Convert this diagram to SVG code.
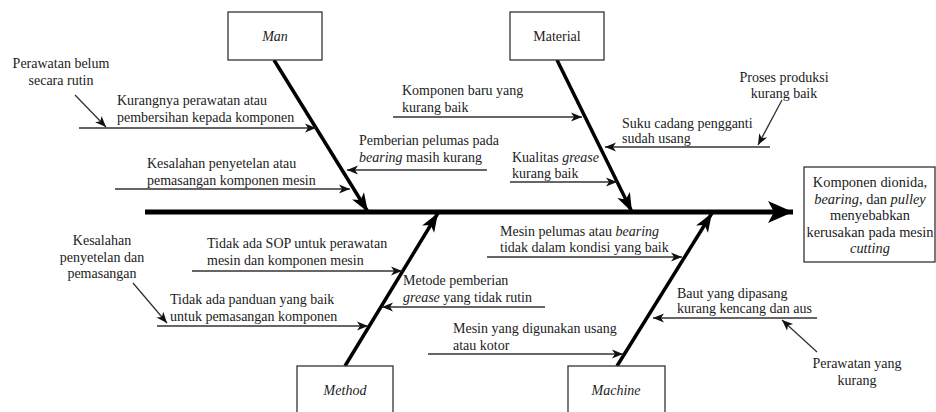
<svg xmlns="http://www.w3.org/2000/svg" width="936" height="412" viewBox="0 0 936 412">
<style>
text{font-family:"Liberation Serif","Tinos","Times New Roman","DejaVu Serif",serif;font-size:14px;fill:#222}
.c{text-anchor:middle}
.i{font-style:italic}
.e{font-size:14.4px}
.box{fill:#fff;stroke:#222;stroke-width:1.2}
.sub{stroke:#333;stroke-width:1.3;fill:none}
.bone{stroke:#000;stroke-width:3.5;fill:none}
</style>
<defs>
<marker id="sa" markerUnits="userSpaceOnUse" markerWidth="12" markerHeight="12" viewBox="0 0 12 12" refX="11" refY="6" orient="auto">
<path d="M0,1.5 L11,6 L0,10.5 L3,6 Z" fill="#111"/>
</marker>
<marker id="ba" markerUnits="userSpaceOnUse" markerWidth="20" markerHeight="16" viewBox="0 0 20 16" refX="19" refY="8" orient="auto">
<path d="M0,1 L19,8 L0,15 L5,8 Z" fill="#000"/>
</marker>
<marker id="ma" markerUnits="userSpaceOnUse" markerWidth="26" markerHeight="26" viewBox="0 0 26 26" refX="25" refY="13" orient="auto">
<path d="M0,2 L25,13 L0,24 L6,13 Z" fill="#000"/>
</marker>
</defs>

<g id="connectors">
<line x1="145" y1="212" x2="793" y2="212" stroke="#000" stroke-width="5" marker-end="url(#ma)"/>
<line class="bone" x1="274" y1="60" x2="368" y2="212" marker-end="url(#ba)"/>
<line class="bone" x1="557" y1="60" x2="632" y2="212" marker-end="url(#ba)"/>
<line class="bone" x1="345" y1="366" x2="438" y2="213" marker-end="url(#ba)"/>
<line class="bone" x1="617" y1="366" x2="712" y2="213" marker-end="url(#ba)"/>

<line class="sub" x1="79" y1="128" x2="316" y2="128" marker-end="url(#sa)"/>
<line class="sub" x1="115" y1="189" x2="350" y2="189" marker-end="url(#sa)"/>
<line class="sub" x1="75" y1="95" x2="106" y2="127" marker-end="url(#sa)"/>
<line class="sub" x1="487" y1="170" x2="347" y2="170" marker-end="url(#sa)"/>

<line class="sub" x1="393" y1="117" x2="582" y2="117" marker-end="url(#sa)"/>
<line class="sub" x1="510" y1="182" x2="617" y2="182" marker-end="url(#sa)"/>
<line class="sub" x1="770" y1="147" x2="605" y2="147" marker-end="url(#sa)"/>
<line class="sub" x1="782" y1="100" x2="758" y2="145" marker-end="url(#sa)"/>

<line class="sub" x1="192" y1="271" x2="402" y2="271" marker-end="url(#sa)"/>
<line class="sub" x1="157" y1="326" x2="368" y2="326" marker-end="url(#sa)"/>
<line class="sub" x1="133" y1="283" x2="167" y2="323" marker-end="url(#sa)"/>
<line class="sub" x1="545" y1="307" x2="382" y2="307" marker-end="url(#sa)"/>

<line class="sub" x1="487" y1="257" x2="682" y2="257" marker-end="url(#sa)"/>
<line class="sub" x1="428" y1="354" x2="623" y2="354" marker-end="url(#sa)"/>
<line class="sub" x1="817" y1="318" x2="653" y2="318" marker-end="url(#sa)"/>
<line class="sub" x1="817" y1="352" x2="782" y2="320" marker-end="url(#sa)"/>
</g>

<g id="man">
<rect class="box" x="228" y="12" width="94" height="48"/>
<text class="c i" x="275" y="41">Man</text>
</g>
<g id="material">
<rect class="box" x="510" y="12" width="94" height="48"/>
<text class="c" x="557" y="41">Material</text>
</g>
<g id="method">
<rect class="box" x="297" y="366" width="96" height="60"/>
<text class="c i" x="345" y="395">Method</text>
</g>
<g id="machine">
<rect class="box" x="568" y="366" width="97" height="60"/>
<text class="c i" x="616" y="395">Machine</text>
</g>
<g id="effect">
<rect class="box" x="804" y="167" width="131" height="95"/>
<text class="c e" x="870" y="187">Komponen dionida,</text>
<text class="c e" x="870" y="204"><tspan class="i">bearing</tspan>, dan <tspan class="i">pulley</tspan></text>
<text class="c e" x="870" y="220">menyebabkan</text>
<text class="c e" x="870" y="237">kerusakan pada mesin</text>
<text class="c i e" x="870" y="253">cutting</text>
</g>

<g id="man-causes">
<text x="117" y="105">Kurangnya perawatan atau</text>
<text x="117" y="122">pembersihan kepada komponen</text>
<text x="147" y="168">Kesalahan penyetelan atau</text>
<text x="147" y="185">pemasangan komponen mesin</text>
<text class="c" x="61" y="68">Perawatan belum</text>
<text class="c" x="61" y="85">secara rutin</text>
<text x="359" y="145">Pemberian pelumas pada</text>
<text x="359" y="162"><tspan class="i">bearing</tspan> masih kurang</text>
</g>
<g id="material-causes">
<text x="402" y="95">Komponen baru yang</text>
<text x="402" y="112">kurang baik</text>
<text x="512" y="162">Kualitas <tspan class="i">grease</tspan></text>
<text x="512" y="178">kurang baik</text>
<text x="622" y="128">Suku cadang pengganti</text>
<text x="622" y="143">sudah usang</text>
<text class="c" x="784" y="82">Proses produksi</text>
<text class="c" x="784" y="98">kurang baik</text>
</g>
<g id="method-causes">
<text x="207" y="248">Tidak ada SOP untuk perawatan</text>
<text x="207" y="265">mesin dan komponen mesin</text>
<text x="170" y="304">Tidak ada panduan yang baik</text>
<text x="170" y="321">untuk pemasangan komponen</text>
<text class="c" x="102" y="245">Kesalahan</text>
<text class="c" x="102" y="262">penyetelan dan</text>
<text class="c" x="102" y="278">pemasangan</text>
<text x="403" y="285">Metode pemberian</text>
<text x="403" y="302"><tspan class="i">grease</tspan> yang tidak rutin</text>
</g>
<g id="machine-causes">
<text x="500" y="236">Mesin pelumas atau <tspan class="i">bearing</tspan></text>
<text x="500" y="252">tidak dalam kondisi yang baik</text>
<text x="453" y="333">Mesin yang digunakan usang</text>
<text x="453" y="350">atau kotor</text>
<text x="677" y="298">Baut yang dipasang</text>
<text x="677" y="313">kurang kencang dan aus</text>
<text class="c" x="857" y="368">Perawatan yang</text>
<text class="c" x="857" y="385">kurang</text>
</g>
</svg>
